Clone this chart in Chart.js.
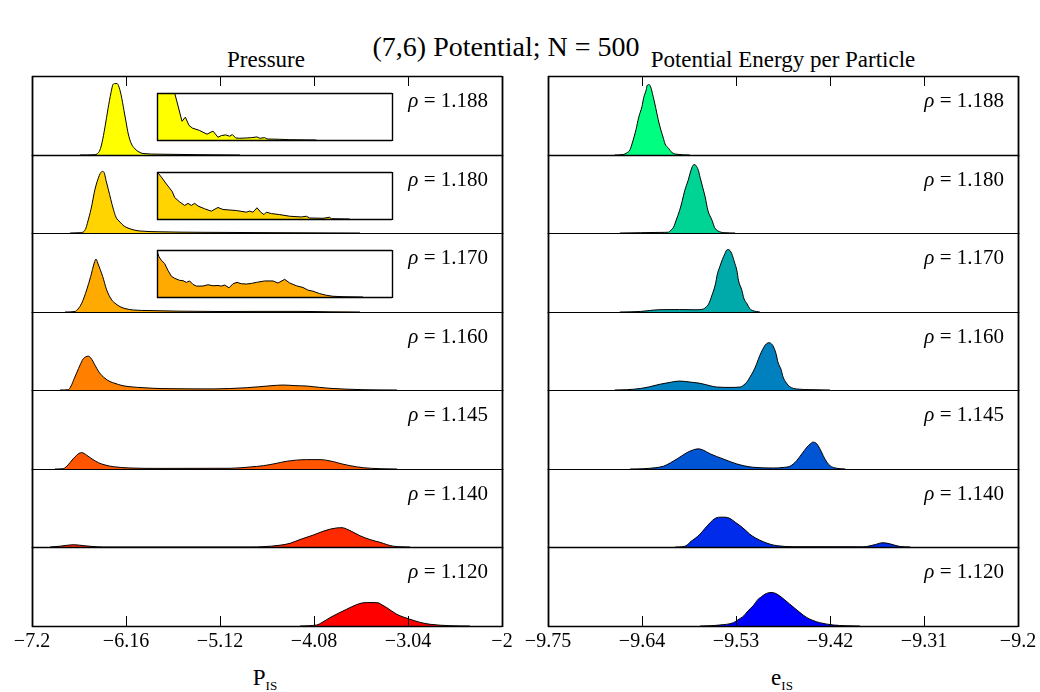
<!DOCTYPE html>
<html><head><meta charset="utf-8">
<script src="https://cdn.jsdelivr.net/npm/chart.js@4.4.1/dist/chart.umd.min.js"></script>
<style>
body{margin:0;background:#fff;width:1040px;height:692px;position:relative;overflow:hidden;font-family:"Liberation Serif",serif;color:#000;}
.txt{position:absolute;white-space:nowrap;transform:translate(-50%,-50%);}
canvas{position:absolute;}
</style></head><body>
<div class="txt" style="left:506px;top:47px;font-size:28px">(7,6) Potential; N = 500</div>
<div class="txt" style="left:266px;top:60px;font-size:23px">Pressure</div>
<div class="txt" style="left:783px;top:60px;font-size:23px">Potential Energy per Particle</div>
<div class="txt" style="left:265px;top:678px;font-size:23px">P<span style="font-size:13px;position:relative;top:5px">IS</span></div>
<div class="txt" style="left:782px;top:678px;font-size:23px">e<span style="font-size:13px;position:relative;top:5px">IS</span></div>
<script>
// ---------- data ----------
const densityLabels = ["1.188","1.180","1.170","1.160","1.145","1.140","1.120"];
const pressureTicks = [-7.2,-6.16,-5.12,-4.08,-3.04,-2];
const pressureTickLabels = ["\u22127.2","\u22126.16","\u22125.12","\u22124.08","\u22123.04","\u22122"];
const energyTicks = [-9.75,-9.64,-9.53,-9.42,-9.31,-9.2];
const energyTickLabels = ["\u22129.75","\u22129.64","\u22129.53","\u22129.42","\u22129.31","\u22129.2"];

// pressure distributions (relative density)
const P1188_x = [-6.669,-6.503,-6.481,-6.448,-6.426,-6.392,-6.359,-6.326,-6.304,-6.282,-6.260,-6.243,-6.215,-6.182,-6.160,-6.135,-6.105,-6.060,-6.016,-5.972,-5.784,-5.341,-4.899];
const P1188_y = [0,0.3,1,5,12,28,46,62,70,71,71,69,60,44,33,21,12,6,3,1.5,0.8,0.3,0];
const P1180_x = [-6.780,-6.669,-6.632,-6.603,-6.584,-6.547,-6.503,-6.455,-6.437,-6.422,-6.403,-6.381,-6.356,-6.300,-6.271,-6.226,-6.182,-6.138,-6.071,-6.005,-5.784,-5.341,-4.677,-3.903,-3.571];
const P1180_y = [0,0.3,1,5,11,24,44,58,61,62,61,53,44,24,16,11,7,5,3,2,1.2,0.7,0.4,0.1,0];
const P1170_x = [-6.835,-6.724,-6.691,-6.650,-6.595,-6.551,-6.511,-6.492,-6.473,-6.418,-6.374,-6.318,-6.271,-6.226,-6.160,-6.079,-5.894,-5.563,-5.120,-4.677,-4.235,-3.903,-3.571];
const P1170_y = [0,0.5,3,8.7,22,35.3,48.7,52.6,48.7,35.3,22,12,8,5.3,3.2,2,1.4,0.8,0.5,0.6,0.6,0.2,0];
const P1160_x = [-6.890,-6.798,-6.768,-6.732,-6.702,-6.669,-6.636,-6.603,-6.577,-6.547,-6.503,-6.459,-6.392,-6.337,-6.282,-6.204,-6.116,-5.950,-5.751,-5.197,-4.825,-4.567,-4.420,-4.290,-4.161,-4.015,-3.903,-3.737,-3.538,-3.162];
const P1160_y = [0,0.3,4,11.7,18,25,31,33.5,34,32,25,18,11.7,8.5,6.7,4.5,3.3,2.2,1.4,1.1,2.3,4.2,5,4.4,4,2.6,1.7,0.9,0.3,0];
const P1145_x = [-6.946,-6.854,-6.824,-6.780,-6.746,-6.705,-6.680,-6.650,-6.625,-6.595,-6.536,-6.466,-6.392,-6.300,-6.116,-5.784,-5.009,-4.788,-4.641,-4.512,-4.382,-4.161,-4.013,-3.866,-3.770,-3.682,-3.534,-3.350,-3.162];
const P1145_y = [0,0.3,2,6.3,10,13.7,15.5,16.3,15.5,13.7,10,6.3,4,2.3,1,0.6,0.7,2,3.3,5.3,7.7,9.3,9.3,7.3,5,3.3,1.3,0.3,0];
const P1140_x = [-7.001,-6.890,-6.743,-6.614,-6.481,-6.337,-4.788,-4.644,-4.456,-4.345,-4.235,-4.088,-3.958,-3.829,-3.770,-3.704,-3.571,-3.461,-3.350,-3.203,-3.018];
const P1140_y = [0,0.8,2.3,1.2,0.2,0,0,0.3,1.8,3.7,7.5,12,16.5,19.2,19.4,17.5,11.3,7.5,4.7,0.8,0];
const P1120_x = [-4.235,-4.050,-3.991,-3.903,-3.814,-3.718,-3.607,-3.538,-3.461,-3.372,-3.328,-3.276,-3.165,-3.095,-3.018,-2.907,-2.796,-2.575,-2.354];
const P1120_y = [0,1,3.5,8.3,12.5,16.7,21.3,23,23.3,23,21,18.3,11.7,9,6.7,3.6,1.7,0.3,0];

// potential energy distributions (relative density)
const E1188_x = [-9.672,-9.662,-9.658,-9.654,-9.651,-9.647,-9.644,-9.640,-9.638,-9.635,-9.634,-9.632,-9.630,-9.627,-9.624,-9.621,-9.618,-9.615,-9.613,-9.609,-9.605,-9.599,-9.584];
const E1188_y = [0,0.5,2,5.3,13,25.3,37,48.3,57,65,69,70,68,58.3,47,35,25,16.7,11,6.7,2.5,0.7,0];
const E1180_x = [-9.666,-9.642,-9.619,-9.609,-9.606,-9.603,-9.600,-9.596,-9.593,-9.590,-9.586,-9.584,-9.581,-9.579,-9.577,-9.574,-9.572,-9.569,-9.566,-9.563,-9.558,-9.555,-9.551,-9.543,-9.531];
const E1180_y = [0,0.3,0.6,0.8,3,6,13,22.7,32,42.7,53,59.3,67,69,68,63,56,46,36,23,12.7,5.5,2,0.3,0];
const E1170_x = [-9.666,-9.642,-9.631,-9.619,-9.596,-9.578,-9.568,-9.565,-9.562,-9.558,-9.554,-9.552,-9.549,-9.546,-9.543,-9.541,-9.539,-9.537,-9.535,-9.532,-9.529,-9.527,-9.523,-9.521,-9.517,-9.514,-9.510,-9.502];
const E1170_y = [0,0.5,1.5,2.3,2.4,2.2,3,5,8,17,28,37,45,52,58,61.5,62,61,58,50,41.3,31,21.3,14,8,3.5,1.3,0];
const E1160_x = [-9.672,-9.658,-9.642,-9.631,-9.619,-9.607,-9.596,-9.584,-9.572,-9.560,-9.553,-9.537,-9.525,-9.521,-9.517,-9.514,-9.510,-9.506,-9.502,-9.499,-9.496,-9.493,-9.491,-9.488,-9.486,-9.483,-9.481,-9.477,-9.475,-9.471,-9.467,-9.459,-9.440,-9.420];
const E1160_y = [0,0.3,1.5,3.3,5.8,7.7,9,8,6.7,4.2,3,2.6,3,5,8.3,12.5,18.3,26,35,40.5,45,47.3,47.6,46,43.3,36,28.3,20,13.3,7,3.3,1,0.3,0];
const E1145_x = [-9.654,-9.638,-9.625,-9.615,-9.607,-9.599,-9.588,-9.580,-9.574,-9.569,-9.560,-9.545,-9.529,-9.510,-9.486,-9.475,-9.467,-9.463,-9.459,-9.453,-9.447,-9.443,-9.440,-9.436,-9.434,-9.430,-9.426,-9.420,-9.412,-9.402];
const E1145_y = [0,0.3,1.2,2.7,6,10,16,19,20,19,15,10,5,1.7,1,1.5,2.7,5,8.3,15,21.7,25,26.7,25.5,23.3,17,10,3.3,0.7,0];
const E1140_x = [-9.601,-9.592,-9.587,-9.584,-9.578,-9.572,-9.566,-9.560,-9.555,-9.549,-9.543,-9.537,-9.531,-9.525,-9.519,-9.514,-9.507,-9.498,-9.490,-9.482,-9.463,-9.385,-9.377,-9.367,-9.358,-9.350,-9.338,-9.326];
const E1140_y = [0,0.3,2,4.7,8.5,13,19,24.7,28.5,30,30,28.7,25,21.3,17,13,9,5.3,2.8,1.3,0.3,0.2,0.5,2.5,4.3,3.2,0.5,0];
const E1120_x = [-9.572,-9.560,-9.549,-9.533,-9.528,-9.521,-9.516,-9.510,-9.504,-9.501,-9.496,-9.489,-9.484,-9.479,-9.473,-9.467,-9.461,-9.455,-9.447,-9.440,-9.432,-9.416,-9.402,-9.385];
const E1120_y = [0,0.3,1,3.3,6,10,15,20,26.7,28.5,31.7,33.3,32.5,30,26,21.7,17.5,13.3,8.3,5.5,3.3,1,0.3,0];

// magnified pressure tails (insets)
const I1188_x = [-6.0,-5.784,-5.699,-5.574,-5.518,-5.455,-5.399,-5.274,-5.149,-5.047,-4.962,-4.905,-4.831,-4.763,-4.718,-4.661,-4.593,-4.479,-4.394,-4.298,-4.252,-4.167,-4.128,-3.912,-3.742,-3.288];
const I1188_y = [120,70,46,18.3,22.3,14.3,11.7,9.3,5.7,8.7,2.7,4.3,5,3.7,5.3,2,1.7,2,2.3,3,1.7,2.3,1,0.7,0.3,0];
const I1180_x = [-6.0,-5.926,-5.841,-5.796,-5.739,-5.699,-5.614,-5.529,-5.472,-5.416,-5.359,-5.302,-5.189,-5.075,-4.962,-4.877,-4.650,-4.479,-4.423,-4.366,-4.298,-4.235,-4.179,-4.139,-4.054,-3.912,-3.742,-3.543,-3.458,-3.401,-3.174,-3.061,-3.032,-2.720];
const I1180_y = [46.3,41,34.3,31,26.7,21,16.7,13.3,15.3,13.3,15.3,12.7,10,7.7,11.3,9.3,8.3,6.7,7.7,6.7,11,6.7,4.3,6.7,5.3,4.3,2.7,2,2.7,1,0.7,1.7,0.3,0];
const I1170_x = [-6.0,-5.966,-5.926,-5.870,-5.813,-5.756,-5.699,-5.614,-5.557,-5.501,-5.444,-5.387,-5.330,-5.217,-5.132,-5.047,-4.962,-4.905,-4.848,-4.774,-4.706,-4.638,-4.564,-4.479,-4.394,-4.309,-4.167,-4.025,-3.940,-3.827,-3.742,-3.628,-3.515,-3.430,-3.345,-3.231,-3.118,-3.004,-2.834,-2.493];
const I1170_y = [45.3,39.3,36,32.7,26,20.3,18.3,16.3,16,14.3,15.7,12.3,10.7,10.7,12,11,11.3,10.7,11.7,9,13,14.3,13,12.7,13.3,14.3,15.7,15.7,13.7,17.3,13.7,11,9.3,6.7,5.7,3.3,1.7,0.7,0.3,0];

// ---------- styles / layout ----------
const pressureColors = ["#ffff00","#ffd400","#ffaa00","#ff8000","#ff5500","#ff2a00","#ff0000"];
const energyColors = ["#00ff80","#00d495","#00aaaa","#0080bf","#0055d5","#002bea","#0000ff"];
const ROW_TOPS = [76,155,233,312,390,469,547,626];
const COL_LEFT = [32,548];
const COL_W = 470;
const FONT = '"Liberation Serif", serif';

const pressureSeries = [[P1188_x,P1188_y],[P1180_x,P1180_y],[P1170_x,P1170_y],[P1160_x,P1160_y],[P1145_x,P1145_y],[P1140_x,P1140_y],[P1120_x,P1120_y]];
const energySeries = [[E1188_x,E1188_y],[E1180_x,E1180_y],[E1170_x,E1170_y],[E1160_x,E1160_y],[E1145_x,E1145_y],[E1140_x,E1140_y],[E1120_x,E1120_y]];
const insetSeries = [[I1188_x,I1188_y],[I1180_x,I1180_y],[I1170_x,I1170_y]];

function addCanvas(left, top, w, h, z){
  const c = document.createElement('canvas');
  c.width = w; c.height = h;
  c.style.left = left+'px'; c.style.top = top+'px';
  c.style.width = w+'px'; c.style.height = h+'px';
  c.style.zIndex = z;
  document.body.appendChild(c);
  return c;
}

function framePlugin(cfg){
  return {
    id: 'frame',
    beforeDraw(chart){
      if (!cfg.white) return;
      const a = chart.chartArea, ctx = chart.ctx;
      ctx.save(); ctx.fillStyle = '#fff';
      ctx.fillRect(a.left, a.top, a.right-a.left, a.bottom-a.top);
      ctx.restore();
    },
    afterDraw(chart){
      const a = chart.chartArea, ctx = chart.ctx;
      ctx.save();
      ctx.strokeStyle = '#000';
      if (cfg.ticksTop || cfg.ticksBottom){
        const xs = chart.scales.x;
        ctx.lineWidth = 1;
        ctx.beginPath();
        cfg.tickVals.forEach(v => {
          const px = Math.round(xs.getPixelForValue(v)) + 0.5;
          if (px <= a.left+2 || px >= a.right-2) return;
          if (cfg.ticksTop){ ctx.moveTo(px, a.top); ctx.lineTo(px, a.top+10); }
          if (cfg.ticksBottom){ ctx.moveTo(px, a.bottom); ctx.lineTo(px, a.bottom-10); }
        });
        ctx.stroke();
      }
      ctx.lineWidth = cfg.hw;
      ctx.beginPath();
      ctx.moveTo(a.left, a.top+0.5); ctx.lineTo(a.right, a.top+0.5);
      ctx.moveTo(a.left, a.bottom+0.5); ctx.lineTo(a.right, a.bottom+0.5);
      ctx.stroke();
      ctx.lineWidth = cfg.vw;
      ctx.beginPath();
      ctx.moveTo(a.left+0.5, a.top); ctx.lineTo(a.left+0.5, a.bottom+1);
      ctx.moveTo(a.right+0.5, a.top); ctx.lineTo(a.right+0.5, a.bottom+1);
      ctx.stroke();
      if (cfg.label){
        ctx.fillStyle = '#000';
        ctx.textBaseline = 'alphabetic';
        const rest = ' = ' + cfg.label;
        ctx.font = '21px ' + FONT;
        const wRest = ctx.measureText(rest).width;
        ctx.font = 'italic 21px ' + FONT;
        const wRho = ctx.measureText('\u03c1').width;
        const xr = a.right - 14, yb = a.top + 31;
        ctx.fillText('\u03c1', xr - wRest - wRho, yb);
        ctx.font = '21px ' + FONT;
        ctx.fillText(rest, xr - wRest, yb);
      }
      ctx.restore();
    }
  };
}

function makePanel(col, row){
  const L = COL_LEFT[col], T = ROW_TOPS[row], H = ROW_TOPS[row+1]-ROW_TOPS[row];
  const bottom = row === 6, m = 3;
  const padL = bottom ? 40 : m, padR = bottom ? 40 : m, axisH = 50;
  const w = COL_W + padL + padR, h = H + m + (bottom ? axisH : m);
  const canvas = addCanvas(L - padL, T - m, w, h, 1);
  const series = col === 0 ? pressureSeries[row] : energySeries[row];
  const color = col === 0 ? pressureColors[row] : energyColors[row];
  const tickVals = col === 0 ? pressureTicks : energyTicks;
  const tickLabels = col === 0 ? pressureTickLabels : energyTickLabels;
  const xScale = {
    type: 'linear', min: tickVals[0], max: tickVals[tickVals.length-1],
    display: bottom,
    grid: { display: false, drawTicks: false },
    border: { display: false },
    afterBuildTicks: s => { s.ticks = tickVals.map(v => ({value: v})); },
    ticks: {
      autoSkip: false, maxRotation: 0, padding: 4, color: '#000',
      font: { family: FONT, size: 20 },
      callback: (v, i) => tickLabels[i]
    }
  };
  if (bottom) xScale.afterFit = s => { s.height = axisH; };
  new Chart(canvas, {
    type: 'line',
    data: { datasets: [{
      data: series[0].map((x,i)=>({x, y: series[1][i]})),
      borderColor: '#000', borderWidth: 1, backgroundColor: color,
      fill: 'origin', pointRadius: 0, cubicInterpolationMode: 'monotone'
    }]},
    options: {
      responsive: false, maintainAspectRatio: false, animation: false, events: [],
      layout: { padding: { left: padL, right: padR, top: m, bottom: bottom ? 0 : m } },
      plugins: { legend: {display:false}, tooltip: {enabled:false} },
      scales: { x: xScale, y: { display: false, min: 0, max: 78.5 } }
    },
    plugins: [framePlugin({
      tickVals, ticksTop: row === 0, ticksBottom: bottom,
      hw: (row === 0 || bottom) ? 1.3 : 1, vw: 1.8,
      label: densityLabels[row]
    })]
  });
}

function makeInset(row){
  const L = 157, W = 235, T = ROW_TOPS[row] + 17, H = 47, m = 2;
  const canvas = addCanvas(L - m, T - m, W + 2*m, H + 2*m, 5);
  const s = insetSeries[row];
  new Chart(canvas, {
    type: 'line',
    data: { datasets: [{
      data: s[0].map((x,i)=>({x, y: s[1][i]})),
      borderColor: '#000', borderWidth: 1, backgroundColor: pressureColors[row],
      fill: 'origin', pointRadius: 0, tension: 0, clip: 0
    }]},
    options: {
      responsive: false, maintainAspectRatio: false, animation: false, events: [],
      layout: { padding: m },
      plugins: { legend: {display:false}, tooltip: {enabled:false} },
      scales: {
        x: { type: 'linear', min: -6.0, max: -2.0, display: false },
        y: { min: 0, max: 46, display: false }
      }
    },
    plugins: [framePlugin({ white: true, hw: 1.4, vw: 1.4 })]
  });
}

for (let c = 0; c < 2; c++) for (let r = 0; r < 7; r++) makePanel(c, r);
for (let r = 0; r < 3; r++) makeInset(r);
</script>
</body></html>
